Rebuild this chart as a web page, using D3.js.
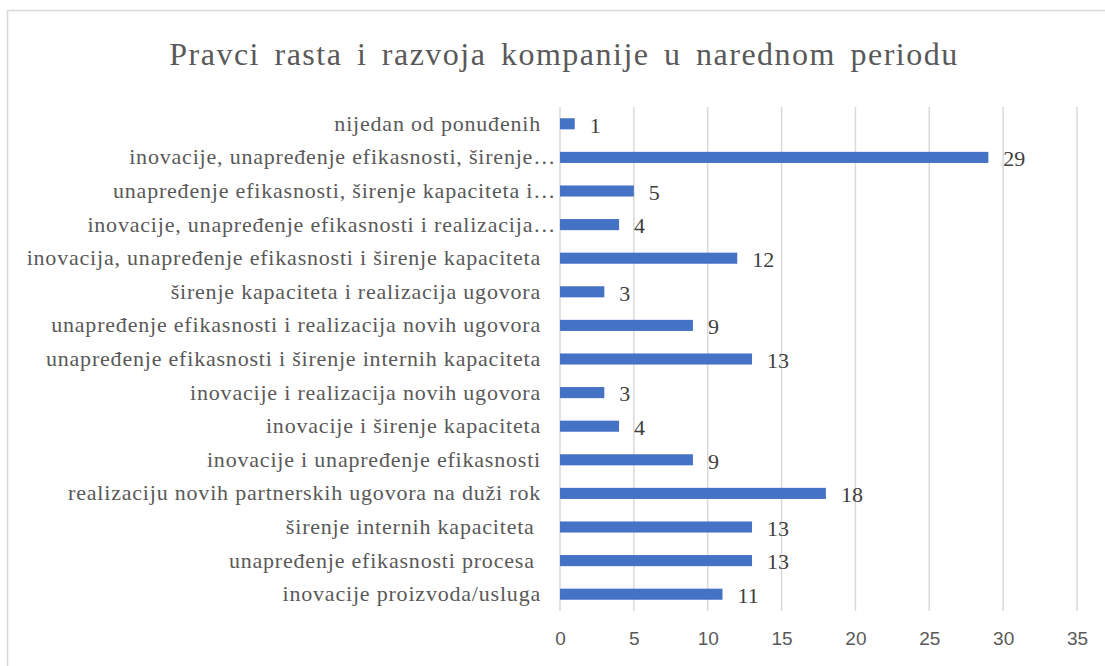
<!DOCTYPE html>
<html>
<head>
<meta charset="utf-8">
<script src="https://cdn.jsdelivr.net/npm/d3@7"></script>
<style>
  body { margin: 0; background: #fff; }
  svg { display: block; }
</style>
</head>
<body>
<svg id="chart" width="1105" height="666"></svg>
<script>
const title = 'Pravci rasta i razvoja kompanije u narednom periodu';

const categories = [
  'nijedan od ponuđenih',
  'inovacije, unapređenje efikasnosti, širenje…',
  'unapređenje efikasnosti, širenje kapaciteta i…',
  'inovacije, unapređenje efikasnosti i realizacija…',
  'inovacija, unapređenje efikasnosti i širenje kapaciteta',
  'širenje kapaciteta i realizacija ugovora',
  'unapređenje efikasnosti i realizacija novih ugovora',
  'unapređenje efikasnosti i širenje internih kapaciteta',
  'inovacije i realizacija novih ugovora',
  'inovacije i širenje kapaciteta',
  'inovacije i unapređenje efikasnosti',
  'realizaciju novih partnerskih ugovora na duži rok',
  'širenje internih kapaciteta ',
  'unapređenje efikasnosti procesa ',
  'inovacije proizvoda/usluga'
];

const values = [1, 29, 5, 4, 12, 3, 9, 13, 3, 4, 9, 18, 13, 13, 11];

const xTicks = [0, 5, 10, 15, 20, 25, 30, 35];

const data = categories.map((c, i) => ({ category: c, value: values[i] }));

const serif = 'Liberation Serif';
const sans = 'Liberation Sans';

const svg = d3.select('#chart');

// outer chart border (runs off the right and bottom edge)
svg.append('rect')
  .attr('x', 7.5).attr('y', 10.5)
  .attr('width', 1200).attr('height', 700)
  .attr('fill', '#fff')
  .attr('stroke', '#d9d9d9')
  .attr('stroke-width', 1.5);

svg.append('text')
  .attr('x', 564).attr('y', 65)
  .attr('text-anchor', 'middle')
  .attr('font-family', serif)
  .attr('font-size', 32)
  .style('letter-spacing', '1.5px')
  .style('word-spacing', '5px')
  .attr('fill', '#595959')
  .text(title);

const xScale = d3.scaleLinear().domain([0, 35]).range([560, 1077]);
const yScale = d3.scaleBand()
  .domain(categories)
  .range([107, 611])
  .paddingInner(0.67)
  .paddingOuter(0.335);

// gridlines
svg.append('g')
  .selectAll('line')
  .data(xTicks)
  .enter()
  .append('line')
  .attr('x1', d => xScale(d)).attr('x2', d => xScale(d))
  .attr('y1', 107).attr('y2', 611)
  .attr('stroke', '#d9d9d9')
  .attr('stroke-width', 1.5);

// x axis tick labels
const xAxis = d3.axisBottom(xScale).tickValues(xTicks).tickSize(0).tickPadding(0);
const gx = svg.append('g').attr('transform', 'translate(0,631)').call(xAxis)
  .attr('font-family', sans)
  .attr('font-size', 19);
gx.select('.domain').remove();
gx.selectAll('text')
  .attr('dy', '0.71em')
  .attr('fill', '#595959');

// category labels
const yAxis = d3.axisLeft(yScale).tickSize(0).tickPadding(0);
const gy = svg.append('g').attr('transform', 'translate(541,0)').call(yAxis)
  .attr('font-family', serif)
  .attr('font-size', 22);
gy.select('.domain').remove();
gy.selectAll('text')
  .attr('dx', d => d.endsWith('…') ? 15 : 0)
  .style('white-space', 'pre')
  .style('letter-spacing', '0.8px')
  .attr('fill', '#595959');

// bars
svg.append('g')
  .selectAll('.bar')
  .data(data)
  .enter()
  .append('rect')
  .classed('bar', true)
  .attr('fill', '#4472c4')
  .attr('x', xScale(0))
  .attr('y', d => yScale(d.category))
  .attr('width', d => xScale(d.value) - xScale(0))
  .attr('height', yScale.bandwidth());

// value labels
svg.append('g')
  .selectAll('text')
  .data(data)
  .enter()
  .append('text')
  .attr('x', d => xScale(d.value) + 15)
  .attr('y', d => yScale(d.category) + yScale.bandwidth() / 2)
  .attr('dy', '0.4em')
  .attr('font-family', serif)
  .attr('font-size', 22)
  .attr('fill', '#404040')
  .text(d => d.value);
</script>
</body>
</html>
